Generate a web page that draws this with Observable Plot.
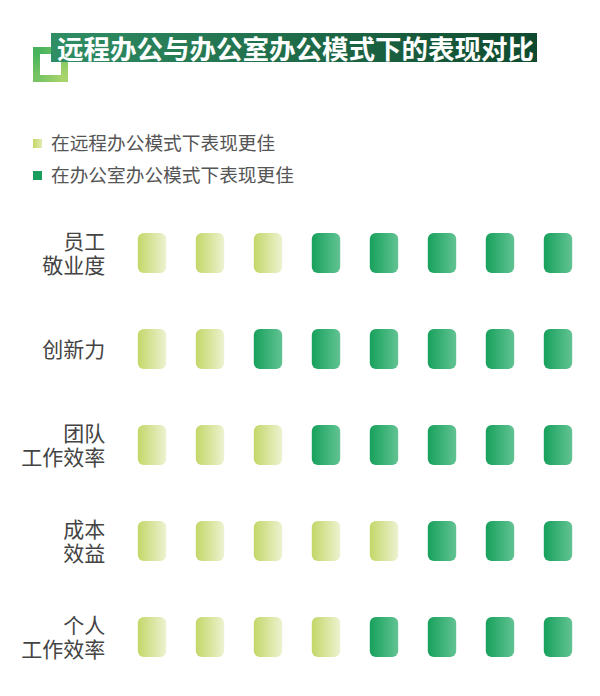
<!DOCTYPE html>
<html><head><meta charset="utf-8">
<script src="https://cdn.jsdelivr.net/npm/d3@7"></script>
<script src="https://cdn.jsdelivr.net/npm/@observablehq/plot@0.6"></script>
<style>
body{margin:0;background:#fff;font-family:"Noto Sans CJK SC","Noto Sans",sans-serif;}
#wrap{position:relative;width:600px;height:696px;overflow:hidden;background:#fff;}
#bracket{position:absolute;left:33px;top:47px;width:21px;height:21px;border:7px solid #5cba5c;border-image:linear-gradient(135deg,#46b35c,#a9d46b) 1;}
#title{position:absolute;left:51px;top:33px;width:486px;height:29px;background:linear-gradient(90deg,#2f8e64,#0f4a2f);color:#fff;font-weight:700;font-size:26.5px;line-height:29px;padding-left:6px;box-sizing:border-box;white-space:nowrap;}
.leg{position:absolute;left:33px;font-size:18.7px;color:#555;line-height:20px;white-space:nowrap;}
.sw{display:inline-block;width:9px;height:9px;margin-right:9px;vertical-align:middle;position:relative;top:-1px;}
#chart{position:absolute;left:0;top:200px;}
</style>
</head>
<body>
<div id="wrap">
  <div id="bracket"></div>
  <div id="title"></div>
  <div class="leg" id="leg0" style="top:132px"></div>
  <div class="leg" id="leg1" style="top:164px"></div>
  <div id="chart"></div>
</div>
<script>
const titleText = "远程办公与办公室办公模式下的表现对比";
const legendLabels = ["在远程办公模式下表现更佳", "在办公室办公模式下表现更佳"];
const metrics = ["员工\n敬业度", "创新力", "团队\n工作效率", "成本\n效益", "个人\n工作效率"];
// R = better when remote, O = better in office (8 markers per metric)
const outcomes = [
  ["R","R","R","O","O","O","O","O"],
  ["R","R","O","O","O","O","O","O"],
  ["R","R","R","O","O","O","O","O"],
  ["R","R","R","R","R","O","O","O"],
  ["R","R","R","R","O","O","O","O"]
];
const lightStops = ["#c3d768", "#edf2d0"];
const darkStops = ["#17a15c", "#62c393"];

document.getElementById("title").textContent = titleText;
const swatchBg = [`linear-gradient(90deg,#c3d768,#e2ebb0)`, `#1a9e5e`];
legendLabels.forEach((t, i) => {
  const el = document.getElementById("leg" + i);
  el.innerHTML = `<span class="sw" style="background:${swatchBg[i]}"></span>`;
  el.appendChild(document.createTextNode(t));
});

const table = [];
outcomes.forEach((row, r) => row.forEach((v, c) => table.push({metric: metrics[r], col: c, kind: v})));
const cols = d3.range(outcomes[0].length);

const common = {x: "col", y: "metric", insetLeft: 14.8, insetRight: 14.8, insetTop: 28, insetBottom: 28, rx: 6};

const chart = Plot.plot({
  width: 600,
  height: 496,
  marginTop: 4.9,
  marginBottom: 10.1,
  marginLeft: 120.7,
  marginRight: 10.5,
  style: {fontFamily: '"Noto Sans CJK SC", sans-serif', background: "transparent"},
  x: {type: "band", domain: cols, padding: 0, axis: null},
  y: {type: "band", domain: metrics, padding: 0, axis: null},
  marks: [
    Plot.cell(table.filter(d => d.kind === "R"), {...common, fill: "url(#gLight)"}),
    Plot.cell(table.filter(d => d.kind === "O"), {...common, fill: "url(#gDark)"}),
    Plot.text(metrics, {y: d => d, text: d => d, frameAnchor: "left", dx: -16, textAnchor: "end", fontSize: 21, lineHeight: 1.12, fill: "#444"})
  ]
});

const svg = d3.select(chart);
const defs = svg.insert("defs", ":first-child");
[["gLight", lightStops], ["gDark", darkStops]].forEach(([id, stops]) => {
  const g = defs.append("linearGradient").attr("id", id).attr("x1", 0).attr("x2", 1).attr("y1", 0).attr("y2", 0);
  stops.forEach((c, i) => g.append("stop").attr("offset", i / (stops.length - 1)).attr("stop-color", c));
});
document.getElementById("chart").appendChild(chart);
</script>
</body></html>
